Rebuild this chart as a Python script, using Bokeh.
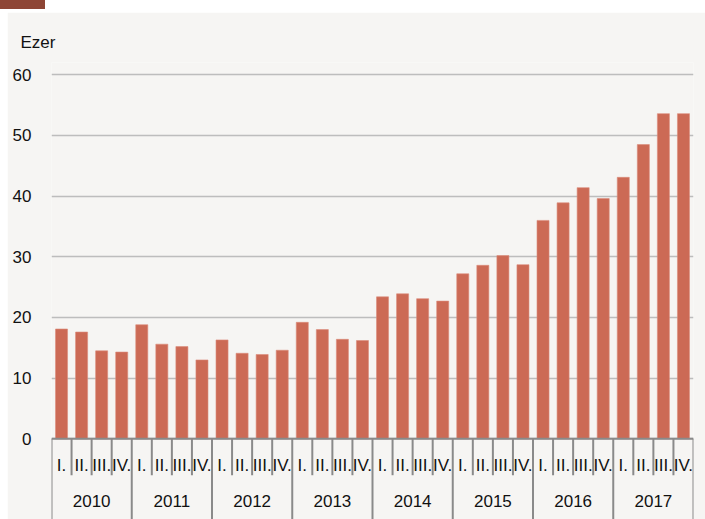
from bokeh.plotting import figure
from bokeh.models import FactorRange, Range1d, FixedTicker, ColumnDataSource, Div, Spacer
from bokeh.layouts import column, row
from bokeh.core.properties import value
from bokeh.embed import file_html
from bokeh.resources import INLINE

years = ["2010", "2011", "2012", "2013", "2014", "2015", "2016", "2017"]
quarters = ["I.", "II.", "III.", "IV."]
values = [
    18.1, 17.6, 14.5, 14.3,
    18.8, 15.6, 15.2, 13.0,
    16.3, 14.1, 13.9, 14.6,
    19.2, 18.0, 16.4, 16.2,
    23.4, 23.9, 23.1, 22.7,
    27.2, 28.6, 30.2, 28.7,
    36.0, 38.9, 41.4, 39.6,
    43.1, 48.5, 53.6, 53.6,
]
y_ticks = [0, 10, 20, 30, 40, 50, 60]
unit_label = "Ezer"

FONT = "Liberation Sans"
FS = "17px"
BAR = "#CC6A55"
BG = "#F6F5F3"
AXIS = "#8A8A8A"
TXT = "#111111"

factors = [(y, q) for y in years for q in quarters]

p = figure(
    width=698, height=507,
    x_range=FactorRange(*factors, factor_padding=0, group_padding=0, range_padding=0),
    y_range=Range1d(-13.3, 62.03),
    output_backend="svg", toolbar_location=None,
    min_border_left=44, min_border_right=12, min_border_top=50, min_border_bottom=0,
    title=unit_label,
)
p.background_fill_color = BG
p.border_fill_color = BG
p.outline_line_color = None
p.xaxis.visible = False
p.xgrid.visible = False

p.title.align = "left"
p.title.offset = -31
p.title.text_font = FONT
p.title.text_font_size = FS
p.title.text_font_style = "normal"
p.title.text_color = TXT
p.title.standoff = 22

yax = p.yaxis[0]
yax.ticker = FixedTicker(ticks=y_ticks)
yax.bounds = (0, 60)
yax.axis_line_color = None
yax.major_tick_line_color = None
yax.major_tick_out = 0
yax.major_tick_in = 0
yax.minor_tick_line_color = None
yax.minor_tick_out = 0
yax.minor_tick_in = 0
yax.major_label_standoff = 20
yax.major_label_text_font = FONT
yax.major_label_text_font_size = FS
yax.major_label_text_color = TXT
p.ygrid.grid_line_color = "#BDBDBD"
p.ygrid.grid_line_width = 1.5

src = ColumnDataSource(dict(x=factors, top=values))
p.vbar(x="x", top="top", width=0.6, source=src, fill_color=BAR, line_color="#DB8C7A", line_width=0.6)

# category axis drawn with the factor scale
n = len(factors)
p.segment(x0=[0], y0=[0], x1=[n], y1=[0], line_color=AXIS, line_width=2)
qb = [i for i in range(n + 1) if i % 4 != 0]
p.segment(x0=qb, y0=[0] * len(qb), x1=qb, y1=[-6.0] * len(qb), line_color=AXIS, line_width=2)
yb = [i for i in range(n + 1) if i % 4 == 0]
p.segment(x0=yb, y0=[0] * len(yb), x1=yb, y1=[-13.3] * len(yb), line_color=AXIS, line_width=2)

p.text(x=factors, y=[-4.4] * n, text=[q for (_, q) in factors],
       text_font=value(FONT), text_font_size=FS, text_align="center",
       text_baseline="middle", text_color=TXT)
p.text(x=years, y=[-10.2] * len(years), text=years,
       text_font=value(FONT), text_font_size=FS, text_align="center",
       text_baseline="middle", text_color=TXT)

header = Div(text='<div style="position:absolute;left:0;top:0;width:45px;height:9px;background:#8E4535"></div>',
             width=705, height=12, margin=0)
layout = column(header, row(Spacer(width=7, height=507, margin=0), p, margin=0), margin=0)

open("out.html", "w").write(file_html(layout, INLINE))
